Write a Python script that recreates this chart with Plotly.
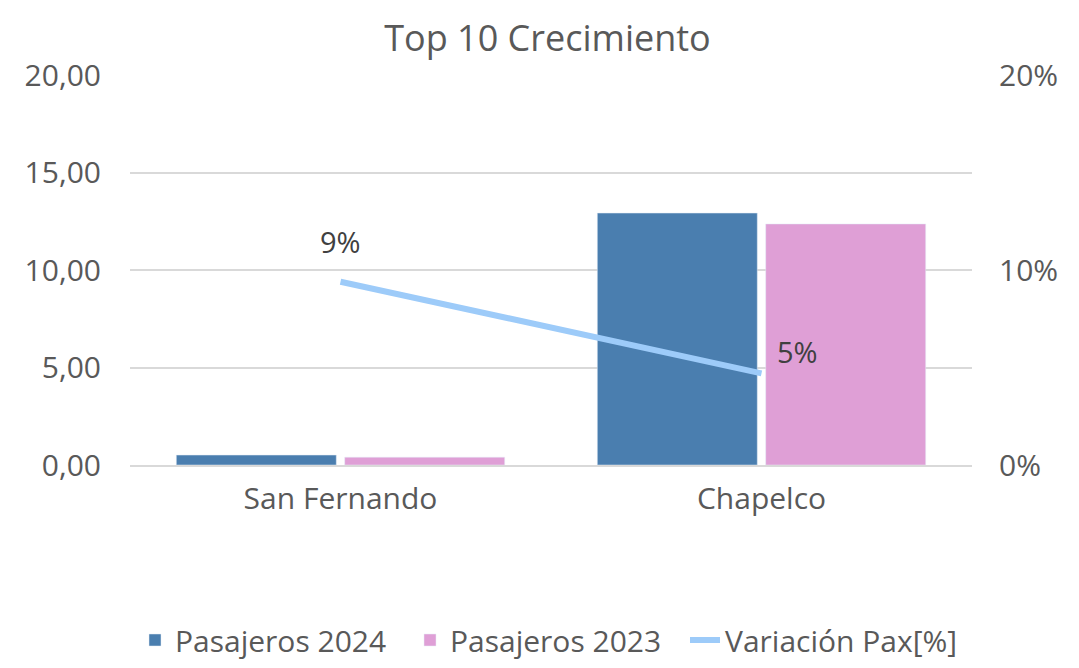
import plotly.graph_objects as go

categories = ["San Fernando", "Chapelco"]
pax_2024 = [0.51, 12.92]
pax_2023 = [0.40, 12.36]
variacion = [0.094, 0.047]
variacion_labels = ["9%", "5%"]

font_family = "'Open Sans', sans-serif"
grey = "#595959"

fig = go.Figure()
fig.add_trace(go.Bar(x=categories, y=pax_2024, name="Pasajeros 2024",
                     marker=dict(color="#4a7eaf")))
fig.add_trace(go.Bar(x=categories, y=pax_2023, name="Pasajeros 2023",
                     marker=dict(color="#df9fd6")))
fig.add_trace(go.Scatter(x=categories, y=variacion, name="Variación Pax[%]",
                         mode="lines", yaxis="y2",
                         line=dict(color="#9dcbf9", width=6)))

shifts = [(0, 40), (36, 22)]
for c, v, lab, (xs, ys) in zip(categories, variacion, variacion_labels, shifts):
    fig.add_annotation(x=c, y=v, yref="y2", text=lab, showarrow=False,
                       xshift=xs, yshift=ys,
                       font=dict(size=29, color="#404040", family=font_family))

fig.update_layout(
    width=1079, height=668,
    separators=",.",
    paper_bgcolor="white", plot_bgcolor="white",
    font=dict(family=font_family, color=grey, size=30),
    title=dict(text="Top 10 Crecimiento", x=0.5, xanchor="center",
               y=1 - 30 / 668, yanchor="middle",
               font=dict(size=36, color=grey, family=font_family)),
    margin=dict(l=122, r=115, t=67, b=211, autoexpand=False),
    barmode="group", bargap=0.2, bargroupgap=0.05,
    xaxis=dict(showgrid=False, showline=True, linecolor="#d9d9d9", linewidth=1.5,
               ticks="", tickfont=dict(size=30, color=grey), ticklabelstandoff=6),
    yaxis=dict(range=[0, 20], dtick=5, tickformat=".2f", showgrid=True,
               gridcolor="#d9d9d9", gridwidth=1.5, zeroline=False, showline=False,
               ticks="", tickfont=dict(size=30, color=grey), ticklen=0,
               ticklabelstandoff=28),
    yaxis2=dict(range=[0, 0.2], dtick=0.1, tickformat=".0%", overlaying="y",
                side="right", showgrid=False, zeroline=False, showline=False,
                tickfont=dict(size=30, color=grey), ticklabelstandoff=26),
    legend=dict(orientation="h", xref="container", yref="container",
                x=0.5, xanchor="center", y=36 / 668, yanchor="middle",
                font=dict(size=30, color=grey), entrywidth=230,
                entrywidthmode="pixels", traceorder="normal"),
)

fig.write_html("out.html")
